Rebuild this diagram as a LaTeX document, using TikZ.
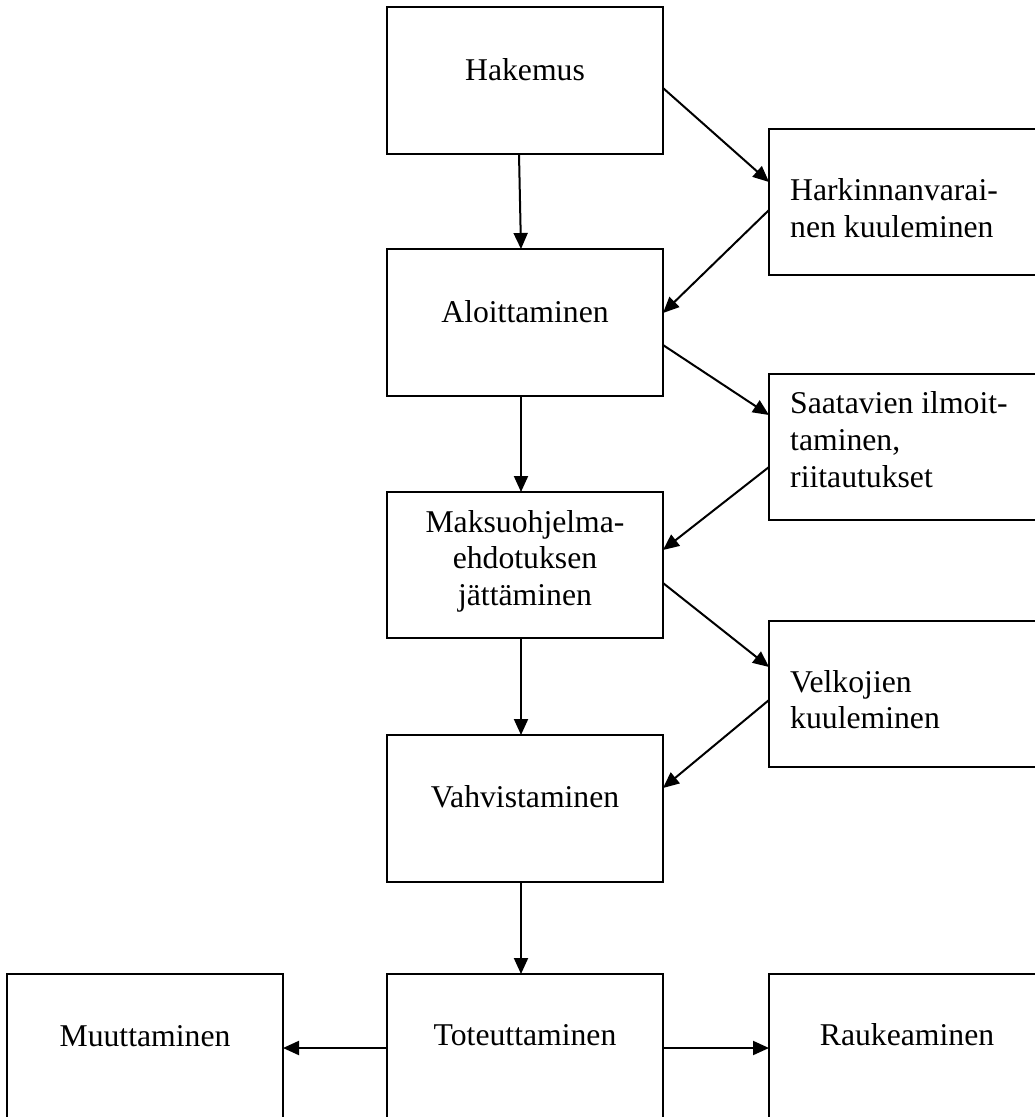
\documentclass[tikz,border=0pt]{standalone}
\usepackage{fontspec}
\setmainfont{Liberation Serif}
\usetikzlibrary{arrows.meta,calc}
\begin{document}
\begin{tikzpicture}[x=1pt,y=-1pt,
  box/.style={draw,line width=1.5pt,inner sep=0pt,outer sep=0pt,anchor=north west,minimum width=276pt},
  txt/.style={inner sep=0pt,font=\fontsize{31.7}{37}\selectfont},
  ctxt/.style={txt,anchor=base},
  ltxt/.style={txt,anchor=base west},
  arr/.style={line width=2pt,-{Triangle[length=16pt,width=14pt]}}]
\useasboundingbox (0,0) rectangle (1035,1117);
\clip (0,0) rectangle (1035,1117);
% boxes
\node[box,minimum height=147pt] (hak) at (387,7) {};
\node[box,minimum height=146pt] (hark) at (769,129) {};
\node[box,minimum height=147pt] (alo) at (387,249) {};
\node[box,minimum height=146pt] (saa) at (769,374) {};
\node[box,minimum height=146pt] (mak) at (387,492) {};
\node[box,minimum height=146pt] (vel) at (769,621) {};
\node[box,minimum height=147pt] (vah) at (387,735) {};
\node[box,minimum height=170pt] (tot) at (387,974) {};
\node[box,minimum height=170pt] (muu) at (7,974) {};
\node[box,minimum height=170pt] (rau) at (769,974) {};
% texts
\node[ctxt] (t-hak) at (525,80) {Hakemus};
\node[ltxt] (t-hark1) at (790,200) {Harkinnanvarai-};
\node[ltxt] (t-hark2) at (790,237) {nen kuuleminen};
\node[ctxt] (t-alo) at (525,322) {Aloittaminen};
\node[ltxt] (t-saa1) at (790,413) {Saatavien ilmoit-};
\node[ltxt] (t-saa2) at (790,450) {taminen,};
\node[ltxt] (t-saa3) at (790,487) {riitautukset};
\node[ctxt] (t-mak1) at (525,532) {Maksuohjelma-};
\node[ctxt] (t-mak2) at (525,568) {ehdotuksen};
\node[ctxt] (t-mak3) at (525,605) {jättäminen};
\node[ltxt] (t-vel1) at (790,692) {Velkojien};
\node[ltxt] (t-vel2) at (790,728) {kuuleminen};
\node[ctxt] (t-vah) at (525,807) {Vahvistaminen};
\node[ctxt] (t-tot) at (525,1045) {Toteuttaminen};
\node[ctxt] (t-muu) at (145,1046) {Muuttaminen};
\node[ctxt] (t-rau) at (907,1045) {Raukeaminen};
% connectors
\draw[arr] ($(hak.south)+(-6,0)$) -- ($(alo.north)+(-4,0)$);
\draw[arr] ($(alo.south)+(-4,0)$) -- ($(mak.north)+(-4,0)$);
\draw[arr] ($(mak.south)+(-4,0)$) -- ($(vah.north)+(-4,0)$);
\draw[arr] ($(vah.south)+(-4,0)$) -- ($(tot.north)+(-4,0)$);
\draw[arr] ($(hak.north east)+(0,81)$) -- ($(hark.north west)+(0,53)$);
\draw[arr] ($(hark.north west)+(0,81)$) -- ($(alo.north east)+(0,64)$);
\draw[arr] ($(alo.north east)+(0,96)$) -- ($(saa.north west)+(0,41)$);
\draw[arr] ($(saa.north west)+(0,93)$) -- ($(mak.north east)+(0,58)$);
\draw[arr] ($(mak.north east)+(0,91)$) -- ($(vel.north west)+(0,46)$);
\draw[arr] ($(vel.north west)+(0,79)$) -- ($(vah.north east)+(0,53)$);
\draw[arr] ($(tot.north west)+(0,74)$) -- ($(muu.north east)+(0,74)$);
\draw[arr] ($(tot.north east)+(0,74)$) -- ($(rau.north west)+(0,74)$);
\end{tikzpicture}
\end{document}
